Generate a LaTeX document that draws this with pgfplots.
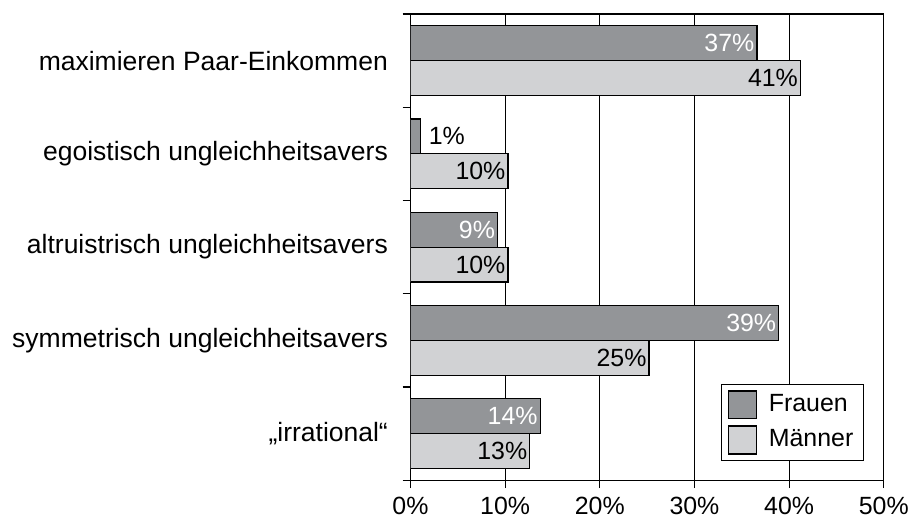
\documentclass[border=0pt]{standalone}
\usepackage{fontspec}
\setmainfont{Liberation Sans}
\usepackage{pgfplots}
\pgfplotsset{compat=1.18}
\definecolor{frauen}{RGB}{147,149,152}
\definecolor{maenner}{RGB}{209,210,212}
\pgfplotsset{
  sqlegend/.style={legend image code/.code={\draw[##1] (0pt,-7pt) rectangle (14pt,7pt);}},
}
\begin{document}
\fontsize{12.5}{14}\selectfont
\begin{tikzpicture}
\begin{axis}[
  width=237.5pt, height=234pt, scale only axis,
  xbar, bar width=0.374,
  xmin=0, xmax=50, ymin=-0.5, ymax=4.5, y dir=reverse,
  xtick={0,10,20,30,40,50},
  xticklabels={0\%,10\%,20\%,30\%,40\%,50\%},
  ytick={-0.5,0.5,1.5,2.5,3.5,4.5},
  yticklabels={,,,,,},
  extra y ticks={0,1,2,3,4},
  extra y tick labels={maximieren Paar-Einkommen,egoistisch ungleichheitsavers,altruistrisch ungleichheitsavers,symmetrisch ungleichheitsavers,„irrational“},
  extra y tick style={major tick length=0pt,
    yticklabel style={xshift=-7pt, font=\fontsize{13.3}{15}\selectfont}},
  tick align=outside, tick pos=left,
  major tick length=4pt,
  tick style={black, line width=0.6pt},
  xmajorgrids, major grid style={black, line width=0.6pt},
  axis line style={line width=0.6pt},
  legend style={at={(0.958,0.041)}, anchor=south east, draw=black, line width=0.6pt,
    fill=white, inner sep=3pt, row sep=3pt, column sep=4pt},
  legend cell align=left,
]
\addplot[fill=frauen, draw=black, line width=0.6pt, bar shift=-0.187, sqlegend,
  nodes near coords, point meta=explicit symbolic,
  every node near coord/.append style={anchor=east, white, inner xsep=1pt}]
  coordinates {(36.6,0) [37\%] (1.05,1) [{}] (9.2,2) [9\%] (38.9,3) [39\%] (13.7,4) [14\%]};
\addplot[fill=maenner, draw=black, line width=0.6pt, bar shift=0.187, sqlegend,
  nodes near coords, point meta=explicit symbolic,
  every node near coord/.append style={anchor=east, black, inner xsep=1pt}]
  coordinates {(41.2,0) [41\%] (10.3,1) [10\%] (10.3,2) [10\%] (25.2,3) [25\%] (12.6,4) [13\%]};
\addplot[forget plot, draw=none, fill=none, bar shift=-0.187,
  nodes near coords, point meta=explicit symbolic,
  every node near coord/.append style={anchor=west, black, inner xsep=4pt}]
  coordinates {(1.05,1) [1\%]};
\legend{Frauen, Männer}
\end{axis}
\path ([shift={(-206pt,-19pt)}]current axis.south west) rectangle ([shift={(15pt,7pt)}]current axis.north east);
\end{tikzpicture}
\end{document}
